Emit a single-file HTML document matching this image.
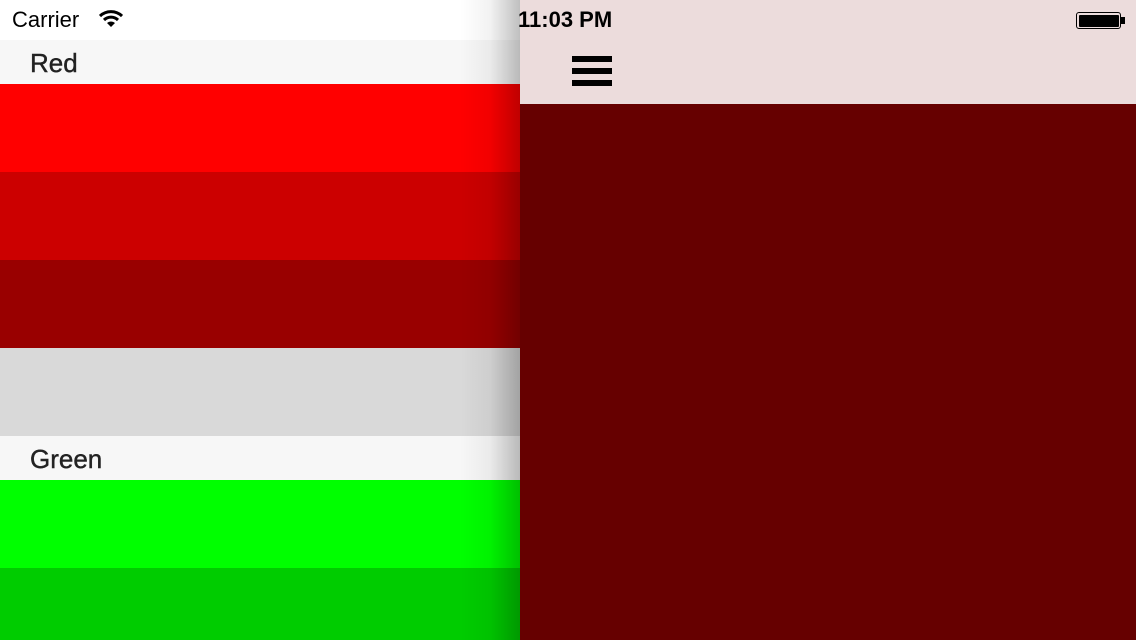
<!DOCTYPE html>
<html><head><meta charset="utf-8"><style>
body{margin:0;width:1136px;height:640px;overflow:hidden;position:relative;font-family:"Liberation Sans",sans-serif;background:#660000}
div{position:absolute;box-sizing:border-box}
.hdr{left:0;width:520px;height:44px;background:#f7f7f7;font-size:26px;color:#222;padding-left:30px;line-height:46px;-webkit-text-stroke:0.4px #222}
.row{left:0;width:520px;height:88px}
.bar{left:572px;width:40px;height:6px;background:#000}
</style></head><body>
<div style="left:0;top:0;width:520px;height:640px;background:#fff">
  <div style="left:12px;top:7px;font-size:22px;color:#000">Carrier</div>
  <svg style="position:absolute;left:99px;top:10px" width="24" height="18" viewBox="0 0 24 18">
    <path d="M1 6 A16 16 0 0 1 23 6" stroke="#000" stroke-width="3" fill="none"/>
    <path d="M5 10 A10 10 0 0 1 19 10" stroke="#000" stroke-width="3" fill="none"/>
    <path d="M12 17 L8 13 A6 6 0 0 1 16 13 Z" fill="#000"/>
  </svg>
  <div class="hdr" style="top:40px">Red</div>
  <div class="row" style="top:84px;background:#ff0000"></div>
  <div class="row" style="top:172px;background:#cc0000"></div>
  <div class="row" style="top:260px;background:#990000"></div>
  <div class="row" style="top:348px;background:#d9d9d9"></div>
  <div class="hdr" style="top:436px">Green</div>
  <div class="row" style="top:480px;background:#00ff00"></div>
  <div class="row" style="top:568px;height:72px;background:#00cc00"></div>
  <div style="left:460px;top:0;width:60px;height:640px;background:linear-gradient(to right,rgba(0,0,0,0),rgba(0,0,0,0.05) 50%,rgba(0,0,0,0.25))"></div>
</div>
<div style="left:520px;top:0;width:616px;height:640px;background:#660000">
  <div style="left:0;top:0;width:616px;height:104px;background:#ecdcdc"></div>
</div>
<div style="left:518px;top:7px;font-size:22px;color:#000;font-weight:bold">11:03 PM</div>
<div style="left:1076px;top:12px;width:45px;height:17px;border:1.5px solid #000;border-radius:3px"><div style="left:1.5px;top:1.5px;right:1.5px;bottom:1.5px;background:#000;border-radius:1px"></div></div>
<div style="left:1121px;top:17px;width:4px;height:7px;background:#000"></div>
<div style="left:572px;top:56px;width:40px;height:30px"></div>
<div class="bar" style="top:56px"></div>
<div class="bar" style="top:68px"></div>
<div class="bar" style="top:80px"></div>
</body></html>
